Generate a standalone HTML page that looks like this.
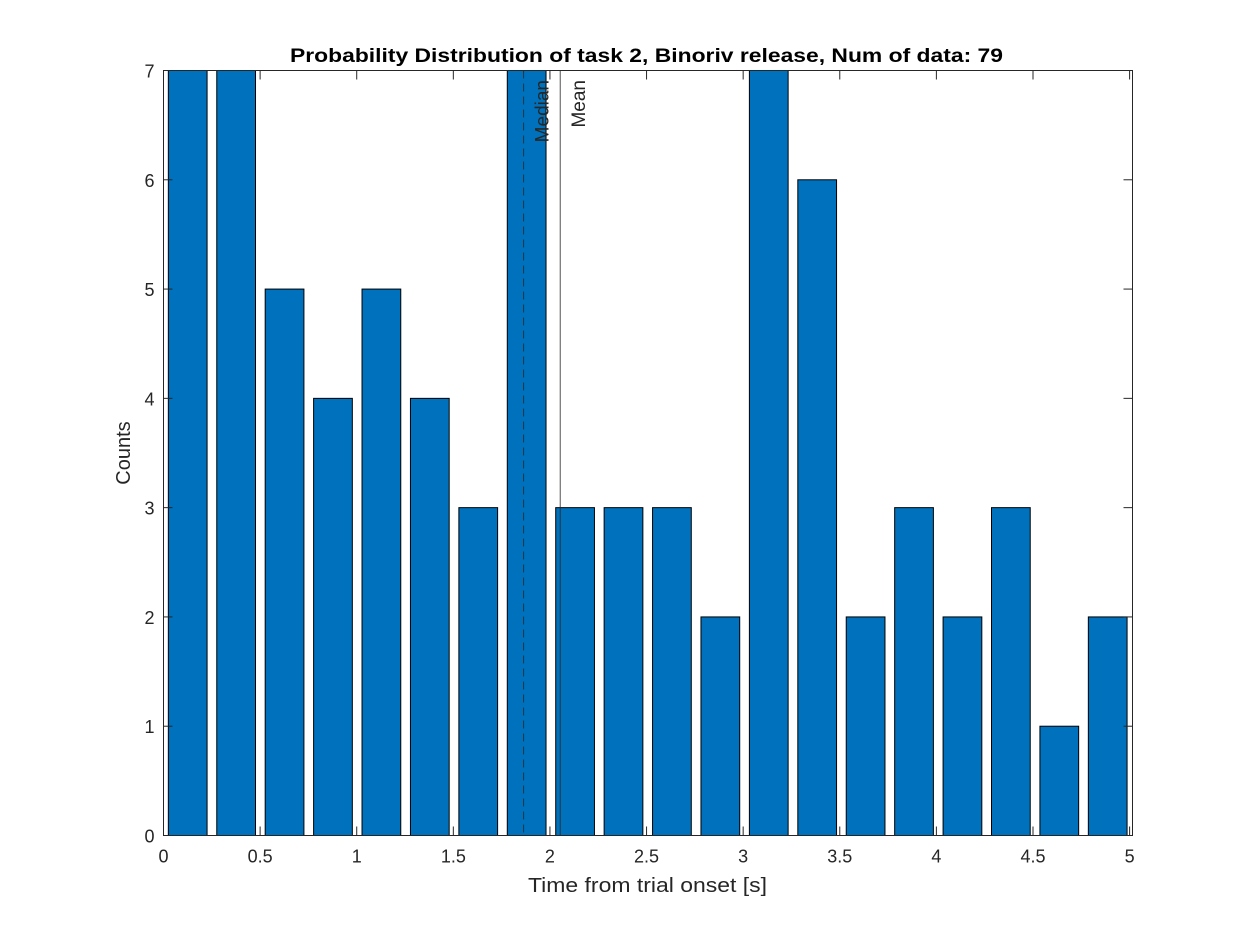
<!DOCTYPE html>
<html><head><meta charset="utf-8"><style>
body{margin:0;background:#fff;}
svg text{font-family:"Liberation Sans",Arial,sans-serif;fill:#262626;}
</style></head><body>
<svg id="chart" width="1250" height="938" xmlns="http://www.w3.org/2000/svg">
<rect width="1250" height="938" fill="#fff"/>
<g id="bars"></g>
<g id="marks"></g>
<rect x="163.5" y="70.5" width="969" height="765" fill="none" stroke="#262626" stroke-width="1"/>
<g id="ticks"></g>
<text x="290" y="62" font-size="19" font-weight="bold" textLength="713" lengthAdjust="spacingAndGlyphs" style="fill:#000">Probability Distribution of task 2, Binoriv release, Num of data: 79</text>
<text x="528" y="892" font-size="20" textLength="239" lengthAdjust="spacingAndGlyphs">Time from trial onset [s]</text>
<text transform="translate(130,453) rotate(-90)" text-anchor="middle" font-size="20">Counts</text>
</svg>
<script>
const counts=[7,7,5,4,5,4,3,7,3,3,3,2,7,6,2,3,2,3,1,2];
const binStart=0.0;
const binWidth=0.2506;
const medianVal=1.864;
const meanVal=2.053;
const xTicks=[0,0.5,1,1.5,2,2.5,3,3.5,4,4.5,5];
const xTickLabels=["0","0.5","1","1.5","2","2.5","3","3.5","4","4.5","5"];
const yTicks=[0,1,2,3,4,5,6,7];
const yTickLabels=["0","1","2","3","4","5","6","7"];
const X0=163.5,X1=1132.5,Y0=835.5,Y1=70.5,xmin=0,xmax=5.015,ymin=0,ymax=7;
const sx=v=>X0+(v-xmin)/(xmax-xmin)*(X1-X0);
const sy=v=>Y0-(v-ymin)/(ymax-ymin)*(Y0-Y1);
const NS="http://www.w3.org/2000/svg";
function mk(tag,attrs,parent){const e=document.createElementNS(NS,tag);for(const k in attrs)e.setAttribute(k,attrs[k]);parent.appendChild(e);return e;}
const bars=document.getElementById('bars'),marks=document.getElementById('marks'),ticks=document.getElementById('ticks');
counts.forEach((c,i)=>{
  const cx=binStart+binWidth*(i+0.5);
  const xl=sx(cx-binWidth*0.4),xr=sx(cx+binWidth*0.4);
  const r=mk('rect',{x:xl,y:sy(c),width:xr-xl,height:sy(0)-sy(c),fill:'#0072bd',stroke:'#000','stroke-width':1},bars);
  
  
});
const ml=mk('line',{x1:sx(medianVal),x2:sx(medianVal),y1:Y1,y2:Y0,stroke:'#262626','stroke-width':0.8,'stroke-dasharray':'8,5'},marks);


const mn=mk('line',{x1:sx(meanVal),x2:sx(meanVal),y1:Y1,y2:Y0,stroke:'#262626','stroke-width':0.8},marks);


[[medianVal,'Median','median-label'],[meanVal,'Mean','mean-label']].forEach(([v,t,n])=>{
  const tx=mk('text',{transform:`translate(${sx(v)+25},80) rotate(-90)`,'text-anchor':'end','font-size':19},marks);
  tx.textContent=t;
  
  
});
xTicks.forEach((v,i)=>{
  const x=sx(v);
  mk('line',{x1:x,x2:x,y1:Y0,y2:Y0-9,stroke:'#262626'},ticks);
  mk('line',{x1:x,x2:x,y1:Y1,y2:Y1+9,stroke:'#262626'},ticks);
  const t=mk('text',{x:x,y:Y0+27,'text-anchor':'middle','font-size':18},ticks);
  t.textContent=xTickLabels[i];
  
  
});
yTicks.forEach((v,i)=>{
  const y=sy(v);
  mk('line',{x1:X0,x2:X0+9,y1:y,y2:y,stroke:'#262626'},ticks);
  mk('line',{x1:X1,x2:X1-9,y1:y,y2:y,stroke:'#262626'},ticks);
  const t=mk('text',{x:X0-9,y:y+7,'text-anchor':'end','font-size':18},ticks);
  t.textContent=yTickLabels[i];
  
  
});
</script>
</body></html>
